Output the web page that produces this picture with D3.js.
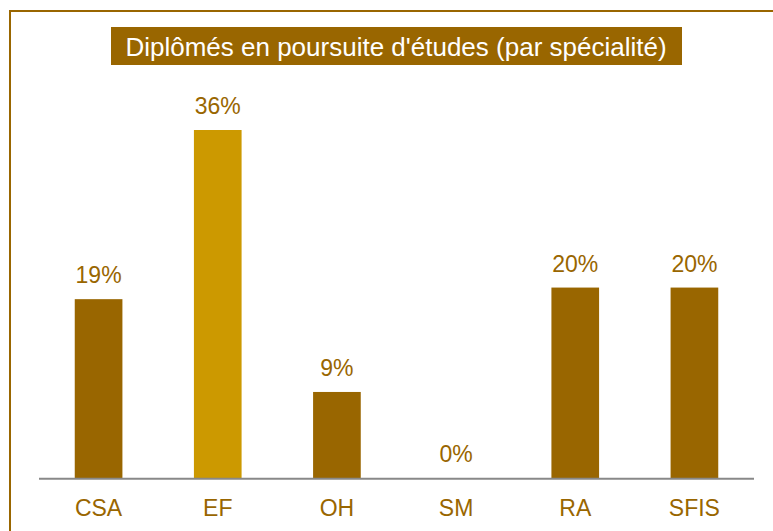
<!DOCTYPE html>
<html>
<head>
<meta charset="utf-8">
<script src="https://cdn.jsdelivr.net/npm/d3@7"></script>
<style>
  body { margin: 0; background: #fff; }
  svg { display: block; font-family: "Liberation Sans", Arial, sans-serif; }
</style>
</head>
<body>
<svg width="773" height="531"></svg>
<script>
var categories = ["CSA", "EF", "OH", "SM", "RA", "SFIS"],
    values = [18.5, 36, 8.9, 0, 19.7, 19.7],
    highlight = "EF",
    title = "Diplômés en poursuite d'études (par spécialité)";

var svg = d3.select("svg"),
    width = +svg.attr("width"),
    height = +svg.attr("height"),
    brown = "#996600",
    gold = "#cc9900";

// frame, only top/left edges are visible in the window
svg.append("rect")
    .attr("x", 10).attr("y", 11)
    .attr("width", width + 20).attr("height", height + 20)
    .attr("fill", "none")
    .attr("stroke", brown)
    .attr("stroke-width", 2);

// title box
svg.append("rect")
    .attr("x", 111).attr("y", 27)
    .attr("width", 571).attr("height", 38)
    .attr("fill", brown);
svg.append("text")
    .attr("x", 396).attr("y", 56)
    .attr("text-anchor", "middle")
    .attr("fill", "#fff")
    .style("font-size", "26px")
    .text(title);

var x = d3.scaleBand()
    .domain(categories)
    .range([39, 754])
    .paddingInner(0.6)
    .paddingOuter(0.3);

var y = d3.scaleLinear()
    .domain([0, 36])
    .range([478, 130]);

var data = categories.map(function(c, i) { return {cat: c, v: values[i]}; });

svg.append("g").selectAll("rect")
  .data(data)
  .enter().append("rect")
    .attr("x", d => x(d.cat))
    .attr("y", d => y(d.v))
    .attr("width", x.bandwidth())
    .attr("height", d => y(0) - y(d.v))
    .attr("fill", d => d.cat === highlight ? gold : brown);

// baseline
svg.append("line")
    .attr("x1", 39).attr("x2", 754)
    .attr("y1", 478.7).attr("y2", 478.7)
    .attr("stroke", "#888")
    .attr("stroke-width", 2);

// value labels
svg.append("g").selectAll("text")
  .data(data)
  .enter().append("text")
    .attr("x", d => x(d.cat) + x.bandwidth() / 2)
    .attr("y", d => y(d.v) - 16)
    .attr("text-anchor", "middle")
    .attr("fill", brown)
    .style("font-size", "23px")
    .text(d => Math.round(d.v) + "%");

// category labels
svg.append("g").selectAll("text")
  .data(categories)
  .enter().append("text")
    .attr("x", d => x(d) + x.bandwidth() / 2)
    .attr("y", 516)
    .attr("text-anchor", "middle")
    .attr("fill", brown)
    .style("font-size", "23px")
    .text(d => d);
</script>
</body>
</html>
